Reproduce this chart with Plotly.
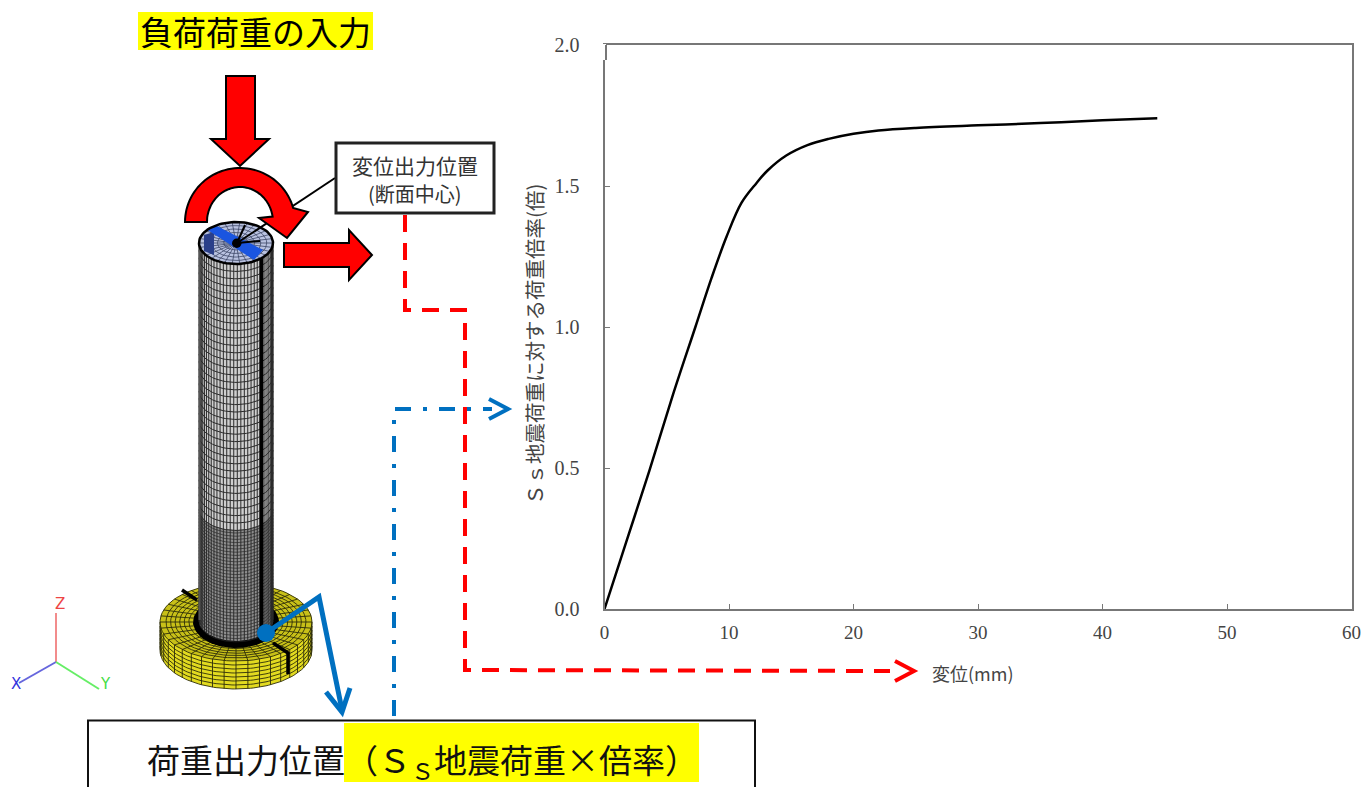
import numpy as np
import plotly.graph_objects as go

# curve
disp_mm = [0, 1.8, 3.6, 5.5, 7.3, 8.6, 9.8, 11.0, 12.2, 13.1, 14.6, 16.3, 18, 20, 22, 25, 30, 35, 40, 44.4]
load_factor = [0, 0.245, 0.49, 0.76, 1.0, 1.174, 1.32, 1.44, 1.51, 1.555, 1.608, 1.645, 1.667, 1.685, 1.697, 1.706, 1.715, 1.723, 1.733, 1.74]

x_ticks = [0, 10, 20, 30, 40, 50, 60]
x_labels = ['0', '10', '20', '30', '40', '50', '60']
y_ticks = [0, 0.5, 1.0, 1.5, 2.0]
y_labels = ['0.0', '0.5', '1.0', '1.5', '2.0']

W, H = 1365, 787
SERIF = 'Liberation Serif, Noto Sans CJK JP'
CJK = 'Noto Sans CJK JP'
RED = '#ff0000'
BLUE = '#0070c0'
FRAME = '#777777'
TEXT = '#444444'

fig = go.Figure()

## the chart itself
fig.add_trace(go.Scatter(x=disp_mm, y=load_factor, mode='lines', showlegend=False,
                         line=dict(color='black', width=2.5, shape='spline', smoothing=1)))


## pixel helpers for the FEM sketch on the left (drawn on a hidden overlay axis)
def lines(xs, ys, color, width):
    fig.add_trace(go.Scatter(x=xs, y=ys, mode='lines', xaxis='x2', yaxis='y2', showlegend=False,
                             hoverinfo='skip', line=dict(color=color, width=width)))


def fill(xs, ys, color):
    fig.add_trace(go.Scatter(x=xs, y=ys, mode='lines', xaxis='x2', yaxis='y2', showlegend=False,
                             hoverinfo='skip', fill='toself', fillcolor=color, line=dict(color=color, width=0)))


def ell(cx, cy, rx, ry, a0=0, a1=360, n=90):
    t = np.radians(np.linspace(a0, a1, n))
    return cx + rx * np.cos(t), cy + ry * np.sin(t)


def join(segments):
    xs, ys = [], []
    for sx, sy in segments:
        xs += list(sx) + [None]
        ys += list(sy) + [None]
    return xs, ys


## base disk
CX = 236
wx, wy = ell(CX, 650, 76, 39, 0, 180)
tx, ty = ell(CX, 622, 76, 39, 180, 360)
fill(list(wx) + list(tx), list(wy) + list(ty), '#e2da20')
fill(*ell(CX, 622, 76, 39), '#c8c018')

segs = []
for r in [0.62, 0.68, 0.74, 0.80, 0.86, 0.92, 1.0]:
    segs.append(ell(CX, 622, 76 * r, 39 * r))
for a in range(0, 360, 9):
    c, s = np.cos(np.radians(a)), np.sin(np.radians(a))
    segs.append(([CX + 43 * c, CX + 76 * c], [622 + 25 * s, 622 + 39 * s]))
lines(*join(segs), '#2e2e0a', 0.9)

segs = []
for d in [4, 8, 12, 16, 20, 24, 28]:
    segs.append(ell(CX, 622 + d, 76, 39, 0, 180))
for a in range(0, 181, 9):
    c, s = np.cos(np.radians(a)), np.sin(np.radians(a))
    segs.append(([CX + 76 * c, CX + 76 * c], [622 + 39 * s, 650 + 39 * s]))
lines(*join(segs), '#2e2e0a', 0.9)

# black seams on the disk
lines([182, 197], [590, 600], 'black', 3.5)
lines([273, 288, 288], [643, 653, 674], 'black', 3.5)
fill(*ell(CX, 622, 43, 26), 'black')

## column
RX, RY = 37, 21
TOP, SPLIT, BOT = 243, 509, 620
fx, fy = ell(CX, BOT, RX, RY, 0, 180)
fill([CX + RX, CX - RX] + list(fx[::-1]), [TOP, TOP] + list(fy[::-1]), '#8e8e8e')
fx, fy = ell(CX, SPLIT, RX, RY, 0, 180)
fill([CX + RX, CX - RX] + list(fx[::-1]), [TOP, TOP] + list(fy[::-1]), '#cfcfcf')

segs = []
for a in np.arange(0, 180.1, 5.5):
    xv = CX + RX * np.cos(np.radians(a))
    yo = RY * np.sin(np.radians(a))
    segs.append(([xv, xv], [TOP + yo, BOT + yo]))
lines(*join(segs), '#2a2a2a', 1.0)

segs = []
for y0 in np.arange(TOP, SPLIT + 1, 7.4):
    segs.append(ell(CX, y0, RX, RY, 0, 180, 40))
lines(*join(segs), '#2a2a2a', 1.0)

segs = []
for y0 in np.arange(SPLIT + 3, BOT + 1, 3.2):
    segs.append(ell(CX, y0, RX, RY, 0, 180, 40))
lines(*join(segs), '#2a2a2a', 0.7)

# shaded left edge and seam of the column
lines([199.5, 199.5], [243, 620], '#555555', 2)
lines([261.5, 261.5], [258, 636], 'black', 4)

## top opening of the column
fill(*ell(CX, TOP, RX, RY), '#b9c2e0')
segs = [ell(CX, TOP, RX * r, RY * r, n=50) for r in [0.17, 0.33, 0.5, 0.67, 0.83]]
for a in range(0, 360, 12):
    c, s = np.cos(np.radians(a)), np.sin(np.radians(a))
    segs.append(([CX, CX + RX * c], [TOP, TOP + RY * s]))
lines(*join(segs), '#3c4666', 0.8)
fill([204, 214, 214, 204], [235, 232, 255, 251], '#2a3f8a')
fill([206, 217, 263, 254], [229, 226, 250, 260], '#1a55e0')
lines(*ell(CX, TOP, RX, RY), 'black', 2.5)


## arrows and boxes as shapes on top
def path(xs, ys, close=True):
    d = 'M' + ' L'.join(f'{a:.1f},{b:.1f}' for a, b in zip(xs, ys))
    return d + (' Z' if close else '')


def shape_poly(xs, ys, fillcolor=None, color='black', width=2, dash=None, close=True):
    return dict(type='path', path=path(xs, ys, close), xref='x2', yref='y2', layer='above',
                fillcolor=fillcolor if fillcolor else 'rgba(0,0,0,0)',
                line=dict(color=color, width=width, dash=dash))


shapes = []

# leader from the label box to the section centre
shapes.append(shape_poly([335, 237], [178, 243], close=False))
shapes.append(shape_poly([237, 245], [243, 225], close=False))
shapes.append(shape_poly([237, 260], [243, 241], close=False))
shapes.append(dict(type='circle', xref='x2', yref='y2', layer='above', x0=232, x1=241.5, y0=238.5, y1=248,
                   fillcolor='black', line=dict(color='black', width=0)))

# load arrows
shapes.append(shape_poly([226, 255, 255, 269, 240, 211, 226], [76, 76, 139, 139, 166, 139, 139], RED))
ox, oy = ell(240, 222, 55, 54, 180, 345, 50)
ix, iy = ell(240, 222, 33, 35, 351, 180, 50)
shapes.append(shape_poly(list(ox) + [308, 287, 259] + list(ix), list(oy) + [212, 238, 218] + list(iy), RED))
shapes.append(shape_poly([284, 349, 349, 372, 349, 349, 284], [243, 243, 230, 255, 280, 267, 267], RED))

# label box
shapes.append(shape_poly([336, 494, 494, 336], [143, 143, 213, 213], 'white', '#222222', 3))

# red dashed route to the x axis
shapes.append(shape_poly([405, 405, 465, 465, 890], [215, 310, 310, 670, 671], color=RED, width=4,
                         dash='17px,11px', close=False))
shapes.append(shape_poly([895, 914, 895], [661, 671, 681], color=RED, width=4, close=False))

# blue dash-dot route to the y axis
shapes.append(shape_poly([394, 394, 492], [716, 409, 409], color=BLUE, width=4,
                         dash='16px,12px,4px,12px', close=False))
shapes.append(shape_poly([489, 508, 489], [399, 409, 419], color=BLUE, width=4, close=False))

# load output callout
shapes.append(shape_poly([266, 319, 342], [633, 597, 710], color=BLUE, width=5, close=False))
shapes.append(shape_poly([326, 342, 350], [692, 712, 688], color=BLUE, width=5, close=False))
shapes.append(dict(type='circle', xref='x2', yref='y2', layer='above', x0=257, x1=275, y0=624, y1=642,
                   fillcolor=BLUE, line=dict(color=BLUE, width=0)))

# triad
shapes.append(shape_poly([56, 56], [662, 613], color='#ee6666', width=1.5, close=False))
shapes.append(shape_poly([56, 19], [662, 683], color='#6666dd', width=2, close=False))
shapes.append(shape_poly([56, 99], [662, 689], color='#66ee66', width=2, close=False))

# bottom box, runs off the page
shapes.append(shape_poly([88, 88, 755, 755], [800, 720.5, 720.5, 800], color='#111111', width=2, close=False))

# yellow highlights
shapes.append(shape_poly([138, 373, 373, 138], [12, 12, 50, 50], '#ffff00', '#ffff00', 0))
shapes.append(shape_poly([344, 699, 699, 344], [723, 723, 782, 782], '#ffff00', '#ffff00', 0))

# little step in the frame at the top left corner
shapes.append(shape_poly([604.5, 604.5], [44, 60], color='white', width=3, close=False))
shapes.append(shape_poly([606, 606], [45, 60], color=FRAME, width=2, close=False))


def note(x, y, text, size, color='black', family=CJK, anchor='center', angle=0):
    return dict(x=x, y=y, xref='x2', yref='y2', text=text, showarrow=False, textangle=angle,
                xanchor=anchor, yanchor='middle', font=dict(family=family, size=size, color=color))


annotations = [
    note(255, 31, '負荷荷重の入力', 33),
    note(415, 165, '変位出力位置', 21, '#333333'),
    note(415, 193, '(断面中心)', 20, '#333333'),
    note(145, 761, '荷重出力位置（Ｓ<sub>Ｓ</sub>地震荷重×倍率）', 33, '#111111', anchor='left'),
    note(973, 673, '変位(mm)', 18, TEXT),
    note(534, 345, 'Ｓｓ地震荷重に対する荷重倍率(倍)', 20.5, TEXT, angle=-90),
    note(60, 604, 'Z', 15, '#ee4444', 'DejaVu Sans'),
    note(16, 684, 'X', 15, '#3333dd', 'DejaVu Sans'),
    note(105, 684, 'Y', 15, '#44dd44', 'DejaVu Sans'),
]

fig.update_layout(
    width=W, height=H, margin=dict(l=0, r=0, t=0, b=0, pad=0, autoexpand=False), autosize=False,
    paper_bgcolor='white', plot_bgcolor='rgba(0,0,0,0)',
    xaxis=dict(domain=[604.5 / W, 1351.5 / W], range=[0, 60], tickvals=x_ticks, ticktext=x_labels,
               ticks='inside', ticklen=5, tickwidth=1, tickcolor=FRAME, showgrid=False, zeroline=False,
               showline=True, linecolor=FRAME, linewidth=2, mirror=True, ticklabelstandoff=5,
               automargin=False, tickfont=dict(family=SERIF, size=19, color=TEXT)),
    yaxis=dict(domain=[(H - 609) / H, (H - 45) / H], range=[0, 2], tickvals=y_ticks, ticktext=y_labels,
               ticks='inside', ticklen=5, tickwidth=1, tickcolor=FRAME, showgrid=False, zeroline=False,
               showline=True, linecolor=FRAME, linewidth=2, mirror=True, ticklabelstandoff=19,
               automargin=False, tickfont=dict(family=SERIF, size=20, color=TEXT)),
    xaxis2=dict(domain=[0, 1], range=[0, W], visible=False, fixedrange=True, automargin=False),
    yaxis2=dict(domain=[0, 1], range=[H, 0], visible=False, fixedrange=True, automargin=False),
    shapes=shapes, annotations=annotations,
)

fig.write_html("out.html", config=dict(displayModeBar=False),
               post_script="document.body.style.margin='0';")
